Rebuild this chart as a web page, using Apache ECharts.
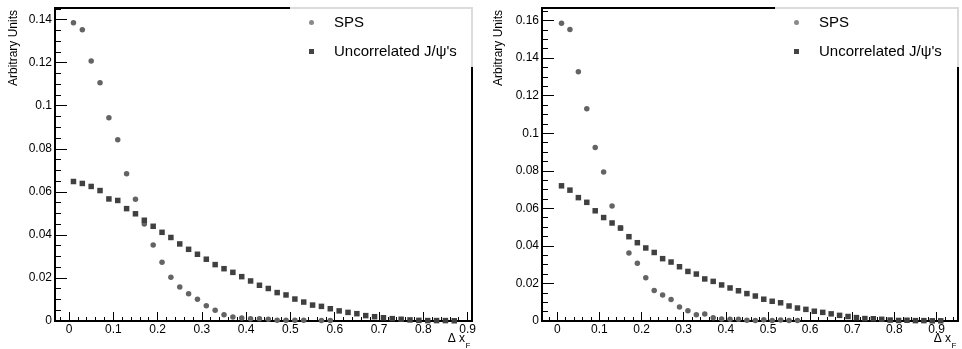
<!DOCTYPE html>
<html>
<head>
<meta charset="utf-8">
<script src="https://cdn.jsdelivr.net/npm/echarts@6/dist/echarts.min.js"></script>
<style>html,body{margin:0;padding:0;background:#fff}#c{width:962px;height:349px}</style>
</head>
<body>
<div id="c"></div>
<script>
// ---- data ----
var xLeft = [0.01,0.03,0.05,0.07,0.09,0.11,0.13,0.15,0.17,0.19,0.21,0.23,0.25,0.27,0.29,0.31,0.33,0.35,0.37,0.39,0.41,0.43,0.45,0.47,0.49,0.51,0.53,0.55,0.57,0.59,0.61,0.63,0.65,0.67,0.69,0.71,0.73,0.75,0.77,0.79,0.81,0.83,0.85,0.87];
var spsLeft = [0.1385,0.1353,0.1208,0.1107,0.0944,0.0842,0.0684,0.0566,0.0451,0.0353,0.0273,0.0203,0.0158,0.0127,0.0101,0.0071,0.0050,0.0029,0.0019,0.0014,0.0011,0.0010,0.0008,0.0004,0.0004,0.0003,0.0003,null,0.0002,0.0002,null,null,null,null,null,null,null,null,null,null,null,null,null,null];
var uncLeft = [0.0648,0.0639,0.0625,0.0606,0.0567,0.0560,0.0522,0.0498,0.0468,0.0440,0.0412,0.0388,0.0358,0.0333,0.0310,0.0287,0.0262,0.0243,0.0226,0.0206,0.0186,0.0166,0.0151,0.0132,0.0121,0.0102,0.0088,0.0074,0.0068,0.0057,0.0047,0.0040,0.0034,0.0025,0.0020,0.0015,0.0011,0.0008,0.0005,0.0003,0.0002,0.0002,0.0002,0.0001];

var xRight = [0.01,0.03,0.05,0.07,0.09,0.11,0.13,0.15,0.17,0.19,0.21,0.23,0.25,0.27,0.29,0.31,0.33,0.35,0.37,0.39,0.41,0.43,0.45,0.47,0.49,0.51,0.53,0.55,0.57,0.59,0.61,0.63,0.65,0.67,0.69,0.71,0.73,0.75,0.77,0.79,0.81,0.83,0.85,0.87,0.89,0.91];
var spsRight = [0.1586,0.1552,0.1327,0.1131,0.0924,0.0793,0.0612,0.0495,0.0362,0.0307,0.0231,0.0163,0.0138,0.0114,0.0074,0.0055,0.0033,0.0037,0.0017,0.0010,0.0009,0.0009,0.0004,0.0003,0.0006,0.0003,0.0005,0.0003,0.0002,null,null,null,null,null,null,null,null,null,null,null,null,null,null,null,null,null];
var uncRight = [0.0720,0.0697,0.0657,0.0632,0.0587,0.0551,0.0522,0.0495,0.0449,0.0417,0.0389,0.0365,0.0332,0.0314,0.0289,0.0264,0.0250,0.0224,0.0211,0.0192,0.0176,0.0161,0.0146,0.0133,0.0116,0.0105,0.0097,0.0080,0.0069,0.0062,0.0052,0.0046,0.0038,0.0030,0.0024,0.0018,0.0013,0.0012,0.0009,0.0005,0.0003,0.0004,0.0002,0.0002,0.0001,0.0001];

var seriesNames = ['SPS', "Uncorrelated J/\u03c8's"];

// axis ranges (ticks come out at 0.1 / 0.02 on x and 0.02 / 0.005 on y)
var xRangeLeft = [-0.0317, 0.91], xRangeRight = [-0.0363, 0.951];
var yMaxLeft = 0.1454, yMaxRight = 0.1667;

// ---- build ----
var FONT = 'Liberation Sans, Arial, Helvetica, sans-serif';
function pairs(xs, ys){ var o=[]; for (var i=0;i<xs.length;i++){ if (ys[i]!=null) o.push([xs[i], ys[i]]); } return o; }
function fmt(v){ return String(+(+v).toFixed(4)); }
function axLine(){ return {show:true, onZero:false, lineStyle:{color:'#000', width:2}}; }

function xAxes(grid, range, majorSplit, minorSplit){
  return [
    {gridIndex:grid, type:'value', min:range[0], max:range[1], splitNumber:majorSplit, position:'bottom',
     axisLine:axLine(), splitLine:{show:false},
     axisTick:{show:true, inside:true, length:9, lineStyle:{color:'#000', width:1}},
     axisLabel:{show:true, showMinLabel:false, showMaxLabel:false, formatter:fmt, margin:3, fontSize:12, color:'#000', fontFamily:FONT}},
    {gridIndex:grid, type:'value', min:range[0], max:range[1], splitNumber:minorSplit, position:'bottom',
     axisLine:axLine(), splitLine:{show:false},
     axisTick:{show:true, inside:true, length:4, lineStyle:{color:'#000', width:1}},
     axisLabel:{show:false}}
  ];
}
function yAxes(grid, max, majorSplit, minorSplit){
  return [
    {gridIndex:grid, type:'value', min:0, max:max, splitNumber:majorSplit, position:'left',
     axisLine:axLine(), splitLine:{show:false},
     axisTick:{show:true, inside:true, length:12, lineStyle:{color:'#000', width:1}},
     axisLabel:{show:true, showMaxLabel:false, formatter:fmt, margin:3, fontSize:12, color:'#000', fontFamily:FONT}},
    {gridIndex:grid, type:'value', min:0, max:max, splitNumber:minorSplit, position:'left',
     axisLine:axLine(), splitLine:{show:false},
     axisTick:{show:true, inside:true, length:6, lineStyle:{color:'#000', width:1}},
     axisLabel:{show:false}}
  ];
}
function legendAt(left){
  return {
    left:left, top:6, orient:'vertical', padding:[9,30,8,19], itemWidth:5, itemHeight:5, itemGap:14,
    backgroundColor:'rgba(255,255,255,0.86)', borderWidth:0, selectedMode:false, z:10,
    textStyle:{fontSize:15, color:'#000', fontFamily:FONT, padding:[0,0,0,15]},
    data:[{name:seriesNames[0], icon:'circle', itemStyle:{color:'#8a8a8a'}},
          {name:seriesNames[1], icon:'rect', itemStyle:{color:'#444'}}]
  };
}
function scat(name, xi, yi, data, sym, color){
  return {type:'scatter', name:name, xAxisIndex:xi, yAxisIndex:yi, data:data, symbol:sym, symbolSize:5.5,
          itemStyle:{color:color, opacity:1}, emphasis:{disabled:true}, animation:false};
}

var option = {
  animation:false,
  backgroundColor:'#fff',
  grid:[
    {left:55, top:8, width:417, height:313, show:true, borderColor:'#000', borderWidth:2},
    {left:542, top:8, width:416, height:313, show:true, borderColor:'#000', borderWidth:2}
  ],
  xAxis: xAxes(0, xRangeLeft, 10, 47).concat(xAxes(1, xRangeRight, 10, 49)),
  yAxis: yAxes(0, yMaxLeft, 7, 29).concat(yAxes(1, yMaxRight, 8, 33)),
  legend:[legendAt(290), legendAt(775)],
  series:[
    scat(seriesNames[0], 0, 0, pairs(xLeft, spsLeft), 'circle', '#646464'),
    scat(seriesNames[1], 0, 0, pairs(xLeft, uncLeft), 'rect', '#404040'),
    scat(seriesNames[0], 2, 2, pairs(xRight, spsRight), 'circle', '#646464'),
    scat(seriesNames[1], 2, 2, pairs(xRight, uncRight), 'rect', '#404040')
  ],
  graphic:[
    {type:'text', x:14, y:10, rotation:Math.PI/2, style:{text:'Arbitrary Units', fontSize:12, fontFamily:FONT, fill:'#000', align:'right', verticalAlign:'middle'}},
    {type:'text', x:498.5, y:10, rotation:Math.PI/2, style:{text:'Arbitrary Units', fontSize:12, fontFamily:FONT, fill:'#000', align:'right', verticalAlign:'middle'}},
    {type:'text', x:465, y:345, style:{text:'\u0394 x', fontSize:12, fontFamily:FONT, fill:'#000', align:'right', verticalAlign:'bottom'}},
    {type:'text', x:465.5, y:349.5, style:{text:'F', fontSize:8, fontFamily:FONT, fill:'#000', align:'left', verticalAlign:'bottom'}},
    {type:'text', x:951, y:345, style:{text:'\u0394 x', fontSize:12, fontFamily:FONT, fill:'#000', align:'right', verticalAlign:'bottom'}},
    {type:'text', x:951.5, y:349.5, style:{text:'F', fontSize:8, fontFamily:FONT, fill:'#000', align:'left', verticalAlign:'bottom'}}
  ]
};
var chart = echarts.init(document.getElementById('c'), null, {renderer:'canvas'});
chart.setOption(option);
</script>
</body>
</html>
